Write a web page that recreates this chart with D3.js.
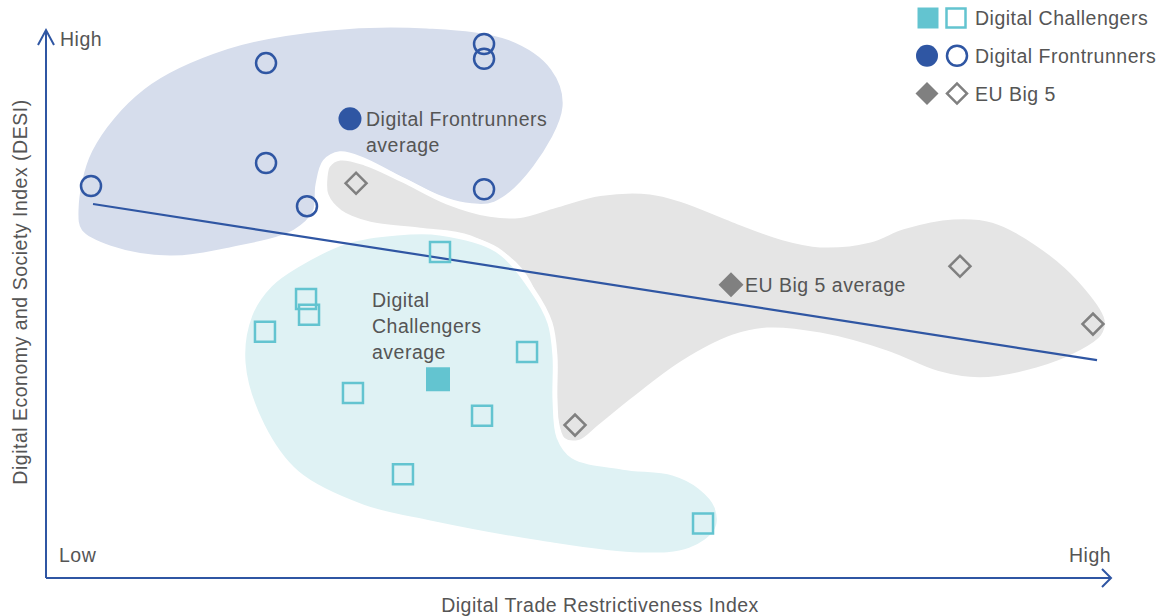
<!DOCTYPE html>
<html>
<head>
<meta charset="utf-8">
<script src="https://cdn.jsdelivr.net/npm/d3@7"></script>
<style>
  html, body { margin: 0; padding: 0; background: #fff; }
  svg { display: block; font-family: "Liberation Sans", Arial, sans-serif; letter-spacing: 0.5px; }
</style>
</head>
<body>
<svg id="chart" width="1170" height="616"></svg>
<script>
// ---- Data (index units 0-100 on both axes) ----
const frontrunners = [[4.23,71.8],[20.68,94.3],[41.17,97.8],[41.17,95.1],[20.68,76.0],[24.53,68.1],[41.17,71.2]];
const frontrunnersAvg = [28.57,84.1];
const challengers = [[37.03,59.7],[24.44,51.1],[24.72,48.2],[20.58,45.1],[45.21,41.4],[28.85,33.9],[40.98,29.7],[33.55,19.0],[61.75,10.0]];
const challengersAvg = [36.84,36.4];
const euBig5 = [[29.14,72.3],[85.90,57.1],[98.40,46.5],[49.72,28.0]];
const euBig5Avg = [64.38,53.7];
const trend = [[4.42,68.5],[98.78,39.9]];

// group outlines
const frontBlob = [[2.82,67.4],[4.14,78.4],[9.12,89.9],[17.01,97.3],[26.41,100.7],[35.81,101.1],[43.61,98.9],[47.65,93.4],[48.78,86.3],[45.96,75.1],[42.20,68.5],[39.38,68.3],[36.75,69.8],[32.99,73.4],[29.79,76.6],[27.63,77.7],[26.22,76.2],[25.56,72.0],[25.28,67.0],[23.40,63.4],[17.29,60.1],[11.65,58.6],[6.02,60.4],[3.20,63.4]];
const bigBlob = [[26.50,75.6],[27.63,76.9],[29.98,76.0],[33.55,72.9],[37.69,68.9],[41.73,66.6],[44.55,66.4],[47.84,68.2],[52.07,70.4],[56.77,70.7],[59.87,69.2],[64.57,65.6],[69.27,62.3],[72.74,61.0],[77.44,61.9],[80.55,64.3],[85.24,66.1],[89.00,65.5],[93.14,61.3],[97.18,54.6],[99.72,47.3],[99.34,44.2],[97.18,41.2],[93.14,38.1],[87.78,36.3],[83.74,37.5],[79.04,41.2],[72.74,44.5],[67.76,45.4],[64.57,44.1],[59.87,39.4],[55.17,32.6],[52.07,27.7],[50.19,24.9],[48.59,25.3],[47.84,29.9],[47.18,43.6],[44.55,56.4],[39.85,62.3],[35.15,63.7],[30.45,64.8],[27.63,67.0],[26.32,70.1],[26.22,73.3]];
const challBlob = [[37.03,63.2],[42.39,60.1],[45.77,52.6],[47.37,46.7],[47.84,40.5],[47.84,32.6],[48.21,25.8],[49.53,22.3],[54.23,20.3],[58.93,19.2],[61.47,16.7],[63.06,13.0],[63.06,8.8],[60.53,5.1],[55.83,4.2],[46.43,6.4],[36.09,10.1],[29.79,13.0],[23.59,19.2],[20.30,28.0],[18.52,39.4],[19.17,48.2],[21.05,53.7],[23.59,57.3],[28.29,61.7],[32.99,63.2]];

const axisLabels = { xLow: "Low", xHigh: "High", yHigh: "High" };
const xTitle = "Digital Trade Restrictiveness Index";
const yTitle = "Digital Economy and Society Index (DESI)";
const legendItems = ["Digital Challengers", "Digital Frontrunners", "EU Big 5"];

// ---- Styles ----
const BLUE = "#2f56a3", TEAL = "#63c4d0", GREY = "#808080", TEXT = "#555555";
const FS = "19.5px";

const svg = d3.select("#chart");
const x = d3.scaleLinear().domain([0,100]).range([46,1110]);
const y = d3.scaleLinear().domain([0,100]).range([578,32]);

const blobLine = d3.line().x(d => x(d[0])).y(d => y(d[1])).curve(d3.curveCatmullRomClosed.alpha(0.5));

// blobs: frontrunners under, EU big 5, challengers on top
svg.append("path").attr("d", blobLine(frontBlob)).attr("fill", "#d6ddec").attr("stroke", "#fff").attr("stroke-width", 5);
svg.append("path").attr("d", blobLine(bigBlob)).attr("fill", "#e5e5e5").attr("stroke", "#fff").attr("stroke-width", 5);
svg.append("path").attr("d", blobLine(challBlob)).attr("fill", "#dff2f4").attr("stroke", "#fff").attr("stroke-width", 5);

// axes
const axG = svg.append("g").attr("stroke", BLUE).attr("stroke-width", 2).attr("fill", "none");
const [x0, x1] = x.range(); const [y0, y1] = y.range();
axG.append("line").attr("x1", x0).attr("y1", y0).attr("x2", x1).attr("y2", y0);
axG.append("line").attr("x1", x0).attr("y1", y0).attr("x2", x0).attr("y2", y1 - 2);
axG.append("path").attr("d", `M${x0-8},${y1+13}L${x0},${y1-2}L${x0+8},${y1+13}`);
axG.append("path").attr("d", `M${x1-8},${y0-9}L${x1+1},${y0}L${x1-8},${y0+9}`);

// trend line
svg.append("path").attr("d", d3.line().x(d => x(d[0])).y(d => y(d[1]))(trend))
  .attr("stroke", BLUE).attr("stroke-width", 2.2).attr("fill", "none");

// markers
const sq = (s) => d3.symbol().type(d3.symbolSquare).size(s * s)();
const dia = (h) => d3.symbol().type(d3.symbolSquare).size(2 * h * h)();

svg.append("g").selectAll("circle").data(frontrunners).join("circle")
  .attr("cx", d => x(d[0])).attr("cy", d => y(d[1])).attr("r", 10)
  .attr("fill", "none").attr("stroke", BLUE).attr("stroke-width", 2.5);
svg.append("circle").attr("cx", x(frontrunnersAvg[0])).attr("cy", y(frontrunnersAvg[1])).attr("r", 11.5).attr("fill", BLUE);

svg.append("g").selectAll("path").data(challengers).join("path")
  .attr("d", sq(20)).attr("transform", d => `translate(${x(d[0])},${y(d[1])})`)
  .attr("fill", "none").attr("stroke", TEAL).attr("stroke-width", 2.5);
svg.append("path").attr("d", sq(24)).attr("transform", `translate(${x(challengersAvg[0])},${y(challengersAvg[1])})`).attr("fill", TEAL);

svg.append("g").selectAll("path").data(euBig5).join("path")
  .attr("d", dia(10.5)).attr("transform", d => `translate(${x(d[0])},${y(d[1])}) rotate(45)`)
  .attr("fill", "none").attr("stroke", GREY).attr("stroke-width", 2.5);
svg.append("path").attr("d", dia(12.5)).attr("transform", `translate(${x(euBig5Avg[0])},${y(euBig5Avg[1])}) rotate(45)`).attr("fill", GREY);

// annotations
const T = svg.append("g").attr("fill", TEXT).style("font-size", FS);
const fr = T.append("text").attr("x", x(frontrunnersAvg[0]) + 16).attr("y", y(frontrunnersAvg[1]) + 7);
fr.append("tspan").text("Digital Frontrunners");
fr.append("tspan").attr("x", x(frontrunnersAvg[0]) + 16).attr("dy", 26).text("average");
const ch = T.append("text").attr("x", x(challengersAvg[0]) - 66).attr("y", y(challengersAvg[1]) - 72);
ch.append("tspan").text("Digital");
ch.append("tspan").attr("x", x(challengersAvg[0]) - 66).attr("dy", 26).text("Challengers");
ch.append("tspan").attr("x", x(challengersAvg[0]) - 66).attr("dy", 26).text("average");
T.append("text").attr("x", x(euBig5Avg[0]) + 14).attr("y", y(euBig5Avg[1]) + 7).text("EU Big 5 average");

// axis labels
T.append("text").attr("x", x0 + 14).attr("y", y1 + 14).text(axisLabels.yHigh);
T.append("text").attr("x", x0 + 13).attr("y", y0 - 16).text(axisLabels.xLow);
T.append("text").attr("x", x1 - 41).attr("y", y0 - 16).text(axisLabels.xHigh);
T.append("text").attr("x", 600).attr("y", 612).attr("text-anchor", "middle").text(xTitle);
T.append("text").attr("transform", `translate(27,${(y0 + y1) / 2 - 13}) rotate(-90)`).attr("text-anchor", "middle").text(yTitle);

// legend
const L = svg.append("g").attr("transform", "translate(928,18)");
const rowH = 37.8;
// row 0: squares
L.append("path").attr("d", sq(21)).attr("transform", "translate(0,0)").attr("fill", TEAL);
L.append("path").attr("d", sq(19)).attr("transform", "translate(28,0)").attr("fill", "none").attr("stroke", TEAL).attr("stroke-width", 2.5);
// row 1: circles
L.append("circle").attr("cx", -1).attr("cy", rowH).attr("r", 11).attr("fill", BLUE);
L.append("circle").attr("cx", 29).attr("cy", rowH).attr("r", 10).attr("fill", "none").attr("stroke", BLUE).attr("stroke-width", 2.5);
// row 2: diamonds
L.append("path").attr("d", dia(11.5)).attr("transform", `translate(-1,${2 * rowH}) rotate(45)`).attr("fill", GREY);
L.append("path").attr("d", dia(10)).attr("transform", `translate(29,${2 * rowH}) rotate(45)`).attr("fill", "none").attr("stroke", GREY).attr("stroke-width", 2.5);
L.selectAll("text").data(legendItems).join("text")
  .attr("x", 47).attr("y", (d, i) => i * rowH + 7)
  .attr("fill", TEXT).style("font-size", FS).text(d => d);
</script>
</body>
</html>
